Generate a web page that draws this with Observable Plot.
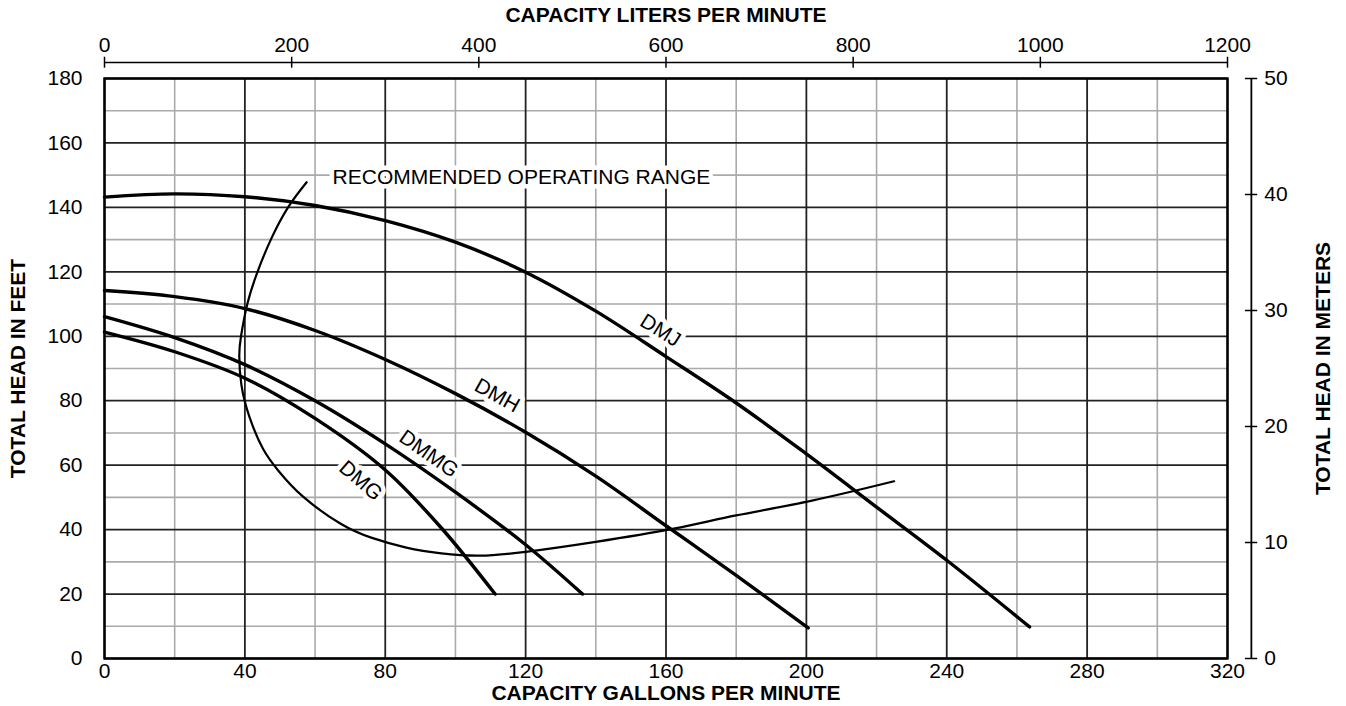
<!DOCTYPE html>
<html><head><meta charset="utf-8">
<script src="https://cdn.jsdelivr.net/npm/d3@7"></script>
<script src="https://cdn.jsdelivr.net/npm/@observablehq/plot@0.6"></script>
<style>body{margin:0;background:#fff;}</style>
</head><body><div id="chart"></div>
<script>
// Axis ticks
const gpmMajor = [0, 40, 80, 120, 160, 200, 240, 280, 320];
const gpmMinor = [20, 60, 100, 140, 180, 220, 260, 300];
const feetMajor = [0, 20, 40, 60, 80, 100, 120, 140, 160, 180];
const feetMinor = [10, 30, 50, 70, 90, 110, 130, 150, 170];
const literTicks = [0, 200, 400, 600, 800, 1000, 1200];
const meterTicks = [0, 10, 20, 30, 40, 50];

// Pump curves: [gallons per minute, total head in feet]
const DMJ = [[0,143.2],[20,144.2],[40,143.3],[60,140.6],[80,135.9],[100,129.2],[120,119.9],[140,107.8],[160,93.7],[180,79.3],[200,63.5],[220,47],[240,30.5],[263.6,9.8]];
const DMH = [[0,114.2],[20,112.3],[40,108.6],[60,101.8],[80,92.8],[100,82.2],[120,70.2],[140,56.6],[160,41.2],[180,25.8],[200.5,9.5]];
const DMMG = [[0,106.1],[20,99.6],[40,91.2],[60,80],[80,66.6],[100,51.6],[120,35.3],[136.2,20]];
const DMG = [[0,101.3],[20,95.2],[40,87],[60,74.5],[80,58.5],[96,40.5],[111.3,20]];
const OPRANGE = [[57.6,147.8],[52.3,140],[47.4,130],[43.6,120],[40.7,110],[38.9,100],[38.4,94],[39,85],[41.3,75],[45.2,65],[49.6,58.2],[56.5,50.3],[67.3,41.8],[76,37.5],[86,34.4],[96,32.6],[106.8,31.9],[120,33.1],[140,36.2],[162.2,40.3],[180,44.4],[201.6,49],[225,55]];

// Curve labels
const labelNames = ["DMJ", "DMH", "DMMG", "DMG", "RECOMMENDED OPERATING RANGE"];
const labelGpm = [158.4, 111.9, 92.4, 73, 118.8];
const labelFt = [101.8, 81.6, 63.5, 55.2, 149.4];
const labelAngle = [32, 29, 35, 41, 0];
const labels = labelNames.map((t, i) => ({t, x: labelGpm[i], y: labelFt[i], a: labelAngle[i]}));

// secondary axes as drawn: 1200 L/min spans 320 gpm, 50 m spans 180 ft
const literToGpm = l => l * 320 / 1200;
const meterToFt = m => m * 180 / 50;

const font = "'Liberation Sans', Arial, Helvetica, sans-serif";
const curveLine = (data) => Plot.line(data, {x: d => d[0], y: d => d[1], stroke: "#000", strokeWidth: 3.4, curve: "catmull-rom"});
const title = (t, o) => Plot.text([t], {fontWeight: "bold", fontSize: 21, textAnchor: "middle", lineAnchor: "middle", ...o});

const chart = Plot.plot({
  width: 1346, height: 706,
  marginLeft: 104, marginRight: 119, marginTop: 78, marginBottom: 48,
  x: {domain: [0, 320]},
  y: {domain: [0, 180]},
  style: {fontFamily: font, fontSize: "21px", background: "#fff", color: "#000", overflow: "visible"},
  marks: [
    Plot.ruleY(feetMinor, {stroke: "#aaa", strokeWidth: 1.6}),
    Plot.ruleX(gpmMinor, {stroke: "#aaa", strokeWidth: 1.6}),
    Plot.ruleY(feetMajor, {stroke: "#222", strokeWidth: 1.8}),
    Plot.ruleX(gpmMajor, {stroke: "#222", strokeWidth: 1.8}),
    Plot.frame({stroke: "#000", strokeWidth: 2.4}),
    // bottom & left axes
    Plot.axisX(gpmMajor, {anchor: "bottom", tickSize: 0, tickPadding: 5, label: null, fontSize: 21}),
    Plot.axisY(feetMajor, {anchor: "left", tickSize: 0, tickPadding: 22, label: null, fontSize: 21}),
    // top axis (liters per minute)
    Plot.ruleY([185], {x1: 0, x2: 320, stroke: "#000", strokeWidth: 1.5}),
    Plot.ruleX(literTicks, {x: literToGpm, y1: 183.2, y2: 186.6, stroke: "#000", strokeWidth: 1.5}),
    Plot.text(literTicks, {x: literToGpm, y: 185, dy: -17, text: d => String(d), fontSize: 21}),
    // right axis (meters)
    Plot.ruleX([326.8], {y1: 0, y2: 180, stroke: "#000", strokeWidth: 1.8}),
    Plot.ruleY(meterTicks, {y: meterToFt, x1: 325.1, x2: 328.6, stroke: "#000", strokeWidth: 1.5}),
    Plot.text(meterTicks, {x: 326.8, y: meterToFt, dx: 13, textAnchor: "start", text: d => String(d), fontSize: 21}),
    // axis titles
    title("CAPACITY LITERS PER MINUTE", {frameAnchor: "top", dy: -63}),
    title("CAPACITY GALLONS PER MINUTE", {frameAnchor: "bottom", dy: 35}),
    title("TOTAL HEAD IN FEET", {frameAnchor: "left", dx: -86, rotate: -90}),
    title("TOTAL HEAD IN METERS", {frameAnchor: "right", dx: 96, rotate: -90}),
    // curves
    Plot.line(OPRANGE, {x: d => d[0], y: d => d[1], stroke: "#000", strokeWidth: 2.2, curve: "natural"}),
    curveLine(DMJ), curveLine(DMH), curveLine(DMMG), curveLine(DMG),
    // labels
    Plot.text(labels, {x: "x", y: "y", text: "t", rotate: "a", fontSize: 21, fill: "#000", stroke: "#fff", strokeWidth: 9})
  ]
});
document.getElementById("chart").appendChild(chart);
</script>
</body></html>
